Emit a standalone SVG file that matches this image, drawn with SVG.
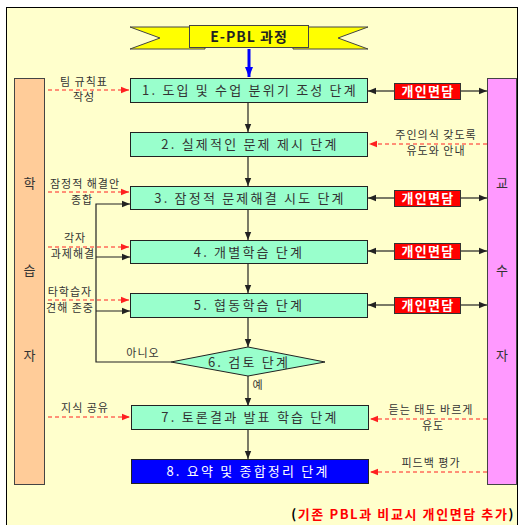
<svg xmlns="http://www.w3.org/2000/svg" width="521" height="525" viewBox="0 0 521 525">
<defs>
<style>
.box{fill:#99FFCC;stroke:#222;stroke-width:1}
.bt{font-family:"Noto Sans CJK KR","Liberation Sans",sans-serif;font-size:13px;fill:#333;text-anchor:middle;letter-spacing:2.2px}
.lb{font-family:"Noto Sans CJK KR","Liberation Sans",sans-serif;font-size:11px;fill:#333;text-anchor:middle;letter-spacing:1px}
.col{font-family:"Noto Sans CJK KR","Liberation Sans",sans-serif;font-size:13px;fill:#333;text-anchor:middle}
.iv{fill:#FF0000;stroke:#333;stroke-width:1}
.ivt{font-family:"Noto Sans CJK KR","Liberation Sans",sans-serif;font-size:13px;font-weight:bold;fill:#fff;text-anchor:middle;letter-spacing:1.3px}
.ln{stroke:#222;stroke-width:1.2;fill:none}
.rd{stroke:#FF2020;stroke-width:1;stroke-dasharray:4,3;fill:none}
</style>
<marker id="ab" viewBox="0 0 10 10" refX="10" refY="5" markerWidth="8" markerHeight="8" markerUnits="userSpaceOnUse" orient="auto-start-reverse"><path d="M0,1 L10,5 L0,9 Z" fill="#222"/></marker>
<marker id="ar" viewBox="0 0 10 10" refX="10" refY="5" markerWidth="8" markerHeight="8" markerUnits="userSpaceOnUse" orient="auto"><path d="M0,1 L10,5 L0,9 Z" fill="#FF2020"/></marker>
<marker id="abl" viewBox="0 0 10 10" refX="10" refY="5" markerWidth="10" markerHeight="10" markerUnits="userSpaceOnUse" orient="auto"><path d="M0,1 L10,5 L0,9 Z" fill="#0000FF"/></marker>
</defs>
<rect x="0" y="0" width="521" height="525" fill="#fff"/>
<rect x="6.5" y="7.5" width="511" height="530" fill="#FFFFCC" stroke="#000" stroke-width="1"/>

<g id="learner">
<rect x="14.5" y="78.5" width="30" height="406" fill="#FFCC99" stroke="#444"/>
<text class="col" x="29.5" y="188">학</text>
<text class="col" x="29.5" y="275">습</text>
<text class="col" x="29.5" y="360">자</text>
</g>
<g id="teacher">
<rect x="487.5" y="78.5" width="29" height="406" fill="#FF99FF" stroke="#444"/>
<text class="col" x="502" y="188">교</text>
<text class="col" x="502" y="275">수</text>
<text class="col" x="502" y="360">자</text>
</g>

<g id="title">
<polygon points="130,27 205,27 205,49 130,49 160,38" fill="#FFFF00" stroke="#444"/>
<polygon points="368,27 293,27 293,49 368,49 338,38" fill="#FFFF00" stroke="#444"/>
<rect x="189.5" y="25.5" width="119" height="22" fill="#FFFF00" stroke="#444"/>
<text x="249" y="41.5" font-family="'Noto Sans CJK KR','Liberation Sans',sans-serif" font-size="14" font-weight="bold" letter-spacing="1" fill="#222" text-anchor="middle">E-PBL 과정</text>
</g>

<g id="connectors">
<line x1="249" y1="49" x2="249" y2="77" stroke="#0000FF" stroke-width="3" marker-end="url(#abl)"/>
<line class="ln" x1="248" y1="102" x2="248" y2="132" marker-end="url(#ab)"/>
<line class="ln" x1="248" y1="156" x2="248" y2="186" marker-end="url(#ab)"/>
<line class="ln" x1="248" y1="209" x2="248" y2="240" marker-end="url(#ab)"/>
<line class="ln" x1="248" y1="263" x2="248" y2="293" marker-end="url(#ab)"/>
<line class="ln" x1="248" y1="317" x2="248" y2="347" marker-end="url(#ab)"/>
<line class="ln" x1="248" y1="376" x2="248" y2="406" marker-end="url(#ab)"/>
<line class="ln" x1="248" y1="429" x2="248" y2="459" marker-end="url(#ab)"/>
<polyline class="ln" points="171,362 96,362 96,204 130,204" marker-end="url(#ab)"/>
<line class="ln" x1="96" y1="257" x2="130" y2="257" marker-end="url(#ab)"/>
<line class="ln" x1="96" y1="311" x2="130" y2="311" marker-end="url(#ab)"/>
<text class="lb" x="143" y="357">아니오</text>
<text class="lb" x="258" y="389">예</text>
<line class="ln" x1="394" y1="91" x2="368" y2="91" marker-end="url(#ab)"/>
<line class="ln" x1="460" y1="91" x2="487" y2="91" marker-end="url(#ab)"/>
<line class="ln" x1="394" y1="198" x2="368" y2="198" marker-end="url(#ab)"/>
<line class="ln" x1="460" y1="198" x2="487" y2="198" marker-end="url(#ab)"/>
<line class="ln" x1="394" y1="251" x2="368" y2="251" marker-end="url(#ab)"/>
<line class="ln" x1="460" y1="251" x2="487" y2="251" marker-end="url(#ab)"/>
<line class="ln" x1="394" y1="305" x2="368" y2="305" marker-end="url(#ab)"/>
<line class="ln" x1="460" y1="305" x2="487" y2="305" marker-end="url(#ab)"/>
<line class="rd" x1="48" y1="90" x2="129" y2="90" marker-end="url(#ar)"/>
<line class="rd" x1="487" y1="144" x2="369" y2="144" marker-end="url(#ar)"/>
<line class="rd" x1="48" y1="192" x2="129" y2="192" marker-end="url(#ar)"/>
<line class="rd" x1="48" y1="247" x2="129" y2="247" marker-end="url(#ar)"/>
<line class="rd" x1="48" y1="300" x2="129" y2="300" marker-end="url(#ar)"/>
<line class="rd" x1="48" y1="417" x2="130" y2="417" marker-end="url(#ar)"/>
<line class="rd" x1="487" y1="419" x2="370" y2="419" marker-end="url(#ar)"/>
<line class="rd" x1="487" y1="472" x2="370" y2="472" marker-end="url(#ar)"/>
</g>

<g id="labels">
<text class="lb" x="84" y="86">팀 규칙표</text>
<text class="lb" x="84" y="101">작성</text>
<text class="lb" x="436" y="139">주인의식 갖도록</text>
<text class="lb" x="436" y="155">유도와 안내</text>
<text class="lb" x="85" y="188">잠정적 해결안</text>
<text class="lb" x="82" y="204">종합</text>
<text class="lb" x="75" y="242">각자</text>
<text class="lb" x="73" y="258">과제해결</text>
<text class="lb" x="70" y="296">타학습자</text>
<text class="lb" x="70" y="312">견해 존중</text>
<text class="lb" x="85" y="412">지식 공유</text>
<text class="lb" x="431" y="414">듣는 태도 바르게</text>
<text class="lb" x="433" y="430">유도</text>
<text class="lb" x="431" y="467">피드백 평가</text>
</g>

<g id="s1"><rect class="box" x="130.5" y="78.5" width="237" height="24"/><text class="bt" x="250" y="95">1. 도입 및 수업 분위기 조성 단계</text></g>
<g id="s2"><rect class="box" x="130.5" y="132.5" width="237" height="24"/><text class="bt" x="250" y="149">2. 실제적인 문제 제시 단계</text></g>
<g id="s3"><rect class="box" x="130.5" y="186.5" width="237" height="23"/><text class="bt" x="250" y="203">3. 잠정적 문제해결 시도 단계</text></g>
<g id="s4"><rect class="box" x="130.5" y="240.5" width="237" height="23"/><text class="bt" x="249" y="257">4. 개별학습 단계</text></g>
<g id="s5"><rect class="box" x="130.5" y="293.5" width="237" height="24"/><text class="bt" x="249" y="310">5. 협동학습 단계</text></g>
<g id="s6"><polygon class="box" points="248,347 325,362 248,376 171,362"/><text class="bt" x="249" y="367">6. 검토 단계</text></g>
<g id="s7"><rect class="box" x="131.5" y="405.5" width="237" height="24"/><text class="bt" x="250" y="422">7. 토론결과 발표 학습 단계</text></g>
<g id="s8"><rect x="131.5" y="459.5" width="237" height="24" fill="#0000FF" stroke="#222"/><text class="bt" x="248" y="476" style="fill:#fff">8. 요약 및 종합정리 단계</text></g>

<g id="iv1"><rect class="iv" x="394.5" y="83.5" width="66" height="16"/><text class="ivt" x="428" y="96">개인면담</text></g>
<g id="iv3"><rect class="iv" x="394.5" y="190.5" width="66" height="16"/><text class="ivt" x="428" y="203">개인면담</text></g>
<g id="iv4"><rect class="iv" x="394.5" y="243.5" width="66" height="16"/><text class="ivt" x="428" y="256">개인면담</text></g>
<g id="iv5"><rect class="iv" x="394.5" y="297.5" width="66" height="16"/><text class="ivt" x="428" y="310">개인면담</text></g>

<text x="515" y="519" font-family="'Noto Sans CJK KR','Liberation Sans',sans-serif" font-size="13" font-weight="bold" letter-spacing="1.6" text-anchor="end" fill="#FF0000"><tspan fill="#000">(</tspan>기존 PBL과 비교시 개인면담 추가<tspan fill="#000">)</tspan></text>
</svg>
